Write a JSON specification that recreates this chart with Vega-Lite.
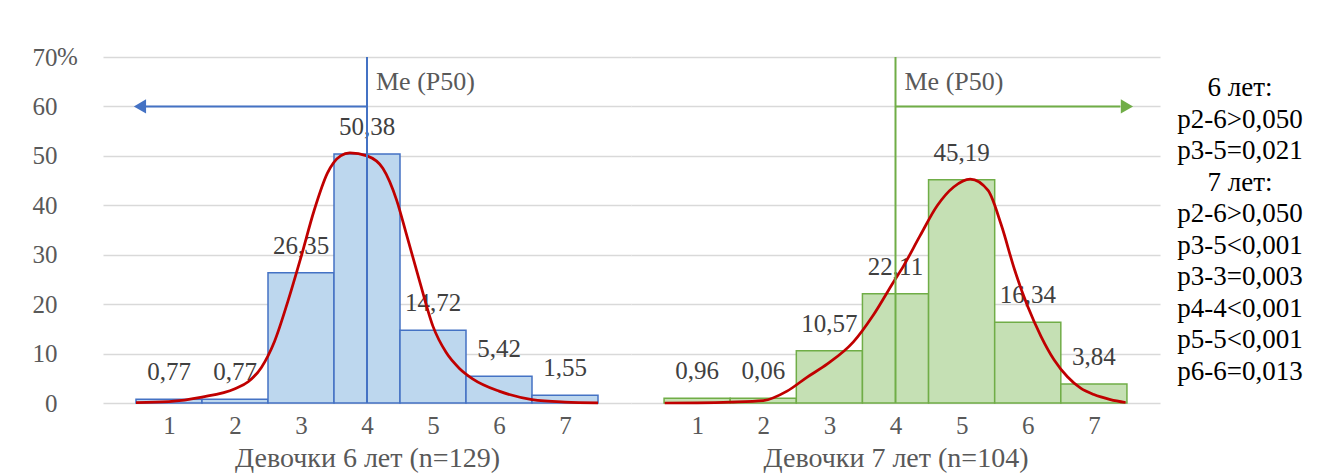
{
  "$schema": "https://vega.github.io/schema/vega-lite/v6.json",
  "padding": {"left": 32, "top": 45, "right": 5, "bottom": 5},
  "background": "white",
  "spacing": 0,
  "config": {
    "font": "Liberation Serif",
    "view": {"stroke": null},
    "axis": {
      "labelFont": "Liberation Serif", "titleFont": "Liberation Serif",
      "labelFontSize": 25, "titleFontSize": 28,
      "labelColor": "#595959", "titleColor": "#595959",
      "titleFontWeight": "normal", "gridColor": "#d9d9d9", "gridWidth": 1.5,
      "ticks": false, "domain": false
    },
    "text": {"font": "Liberation Serif", "fontSize": 25}
  },
  "datasets": {
    "bars": [
      {"g": "6", "cat": 1, "value": 0.77, "label": "0,77"},
      {"g": "6", "cat": 2, "value": 0.77, "label": "0,77"},
      {"g": "6", "cat": 3, "value": 26.35, "label": "26,35"},
      {"g": "6", "cat": 4, "value": 50.38, "label": "50,38"},
      {"g": "6", "cat": 5, "value": 14.72, "label": "14,72"},
      {"g": "6", "cat": 6, "value": 5.42, "label": "5,42"},
      {"g": "6", "cat": 7, "value": 1.55, "label": "1,55"},
      {"g": "7", "cat": 1, "value": 0.96, "label": "0,96"},
      {"g": "7", "cat": 2, "value": 0.96, "label": "0,06"},
      {"g": "7", "cat": 3, "value": 10.57, "label": "10,57"},
      {"g": "7", "cat": 4, "value": 22.11, "label": "22,11"},
      {"g": "7", "cat": 5, "value": 45.19, "label": "45,19"},
      {"g": "7", "cat": 6, "value": 16.34, "label": "16,34"},
      {"g": "7", "cat": 7, "value": 3.84, "label": "3,84"}
    ],
    "curve": [
      {"g": "6", "x": 0.5, "y": 0.1},
      {"g": "6", "x": 1.0, "y": 0.3},
      {"g": "6", "x": 1.5, "y": 1.2},
      {"g": "6", "x": 2.0, "y": 2.9},
      {"g": "6", "x": 2.2, "y": 4.3},
      {"g": "6", "x": 2.4, "y": 7.2},
      {"g": "6", "x": 2.6, "y": 12.5},
      {"g": "6", "x": 2.8, "y": 20.5},
      {"g": "6", "x": 3.0, "y": 29.5},
      {"g": "6", "x": 3.2, "y": 39},
      {"g": "6", "x": 3.4, "y": 46.5},
      {"g": "6", "x": 3.6, "y": 50.0},
      {"g": "6", "x": 3.74, "y": 50.6},
      {"g": "6", "x": 4.0, "y": 50.0},
      {"g": "6", "x": 4.24, "y": 47.5},
      {"g": "6", "x": 4.45, "y": 41},
      {"g": "6", "x": 4.6, "y": 34},
      {"g": "6", "x": 4.8, "y": 24.5},
      {"g": "6", "x": 5.0, "y": 15.5},
      {"g": "6", "x": 5.2, "y": 10.2},
      {"g": "6", "x": 5.4, "y": 7.0},
      {"g": "6", "x": 5.6, "y": 4.9},
      {"g": "6", "x": 6.0, "y": 2.4},
      {"g": "6", "x": 6.5, "y": 0.7},
      {"g": "6", "x": 7.0, "y": 0.2},
      {"g": "6", "x": 7.5, "y": 0.05},
      {"g": "7", "x": 0.51, "y": 0},
      {"g": "7", "x": 1.0, "y": 0.05},
      {"g": "7", "x": 1.5, "y": 0.2},
      {"g": "7", "x": 2.0, "y": 0.5},
      {"g": "7", "x": 2.36, "y": 2.4},
      {"g": "7", "x": 2.66, "y": 5.2},
      {"g": "7", "x": 2.97, "y": 7.9},
      {"g": "7", "x": 3.36, "y": 12.3},
      {"g": "7", "x": 3.66, "y": 17.7},
      {"g": "7", "x": 3.97, "y": 24.5},
      {"g": "7", "x": 4.12, "y": 27.7},
      {"g": "7", "x": 4.37, "y": 33.8},
      {"g": "7", "x": 4.63, "y": 39.9},
      {"g": "7", "x": 4.88, "y": 43.7},
      {"g": "7", "x": 5.13, "y": 45.3},
      {"g": "7", "x": 5.4, "y": 43},
      {"g": "7", "x": 5.6, "y": 36},
      {"g": "7", "x": 5.8, "y": 27},
      {"g": "7", "x": 6.0, "y": 19.5},
      {"g": "7", "x": 6.2, "y": 13.5},
      {"g": "7", "x": 6.4, "y": 8.7},
      {"g": "7", "x": 6.6, "y": 5.3},
      {"g": "7", "x": 6.8, "y": 3.0},
      {"g": "7", "x": 7.0, "y": 1.7},
      {"g": "7", "x": 7.25, "y": 0.7},
      {"g": "7", "x": 7.48, "y": 0.1}
    ],
    "notes": [
      {"i": 0, "t": "6 лет:"},
      {"i": 1, "t": "p2-6>0,050"},
      {"i": 2, "t": "p3-5=0,021"},
      {"i": 3, "t": "7 лет:"},
      {"i": 4, "t": "p2-6>0,050"},
      {"i": 5, "t": "p3-5<0,001"},
      {"i": 6, "t": "p3-3=0,003"},
      {"i": 7, "t": "p4-4<0,001"},
      {"i": 8, "t": "p5-5<0,001"},
      {"i": 9, "t": "p6-6=0,013"}
    ]
  },
  "hconcat": [
    {
      "width": 528, "height": 346,
      "layer": [
        {
          "data": {"name": "bars"},
          "transform": [
            {"filter": "datum.g == '6'"},
            {"bin": {"step": 1, "anchor": 0.5, "extent": [0.5, 7.5], "nice": false}, "field": "cat", "as": ["c0", "c1"]}
          ],
          "mark": {"type": "bar", "fill": "#bdd7ee", "stroke": "#4472c4", "strokeWidth": 1.5},
          "encoding": {
            "x": {"field": "c0", "type": "quantitative", "scale": {"domain": [0, 8]},
                  "axis": {"values": [1, 2, 3, 4, 5, 6, 7], "format": "d", "title": "Девочки 6 лет (n=129)", "grid": false, "labelPadding": 10, "titlePadding": 6}},
            "x2": {"field": "c1"},
            "y": {"field": "value", "type": "quantitative", "scale": {"domain": [0, 70], "padding": 0},
                  "axis": {"values": [0, 10, 20, 30, 40, 50, 60, 70], "title": null, "labelPadding": 46, "grid": true}},
            "y2": {"datum": 0}
          }
        },
        {
          "data": {"name": "bars"},
          "transform": [{"filter": "datum.g == '6'"}],
          "mark": {"type": "text", "font": "Liberation Serif", "fontSize": 25, "baseline": "middle", "dy": -27, "color": "#404040"},
          "encoding": {
            "x": {"field": "cat", "type": "quantitative"},
            "y": {"field": "value", "type": "quantitative"},
            "text": {"field": "label"}
          }
        },
        {
          "data": {"name": "curve"},
          "transform": [{"filter": "datum.g == '6'"}],
          "mark": {"type": "line", "interpolate": "monotone", "color": "#c00000", "strokeWidth": 2.75},
          "encoding": {
            "x": {"field": "x", "type": "quantitative"},
            "y": {"field": "y", "type": "quantitative"}
          }
        },
        {
          "data": {"values": [{}]},
          "mark": {"type": "rule", "color": "#4472c4", "strokeWidth": 2},
          "encoding": {"x": {"datum": 4}, "y": {"datum": 0}, "y2": {"datum": 70}}
        },
        {
          "data": {"values": [{}]},
          "mark": {"type": "rule", "color": "#4472c4", "strokeWidth": 2},
          "encoding": {"x": {"datum": 4}, "x2": {"datum": 0.65}, "y": {"datum": 60}}
        },
        {
          "data": {"values": [{}]},
          "mark": {"type": "point", "shape": "triangle-left", "filled": true, "opacity": 1, "size": 200, "color": "#4472c4"},
          "encoding": {"x": {"datum": 0.56}, "y": {"datum": 60}}
        },
        {
          "data": {"values": [{}]},
          "mark": {"type": "text", "font": "Liberation Serif", "fontSize": 26, "align": "left", "baseline": "middle", "dx": 9, "color": "#595959", "text": "Me (P50)"},
          "encoding": {"x": {"datum": 4}, "y": {"datum": 65}}
        },
        {
          "data": {"values": [{}]},
          "mark": {"type": "text", "font": "Liberation Serif", "fontSize": 25, "align": "left", "baseline": "middle", "dx": -46, "color": "#595959", "text": "%"},
          "encoding": {"x": {"datum": 0}, "y": {"datum": 70}}
        }
      ]
    },
    {
      "width": 529, "height": 346,
      "layer": [
        {
          "data": {"name": "bars"},
          "transform": [
            {"filter": "datum.g == '7'"},
            {"bin": {"step": 1, "anchor": 0.5, "extent": [0.5, 7.5], "nice": false}, "field": "cat", "as": ["c0", "c1"]}
          ],
          "mark": {"type": "bar", "fill": "#c5e0b4", "stroke": "#70ad47", "strokeWidth": 1.5},
          "encoding": {
            "x": {"field": "c0", "type": "quantitative", "scale": {"domain": [0, 8]},
                  "axis": {"values": [1, 2, 3, 4, 5, 6, 7], "format": "d", "title": "Девочки 7 лет (n=104)", "grid": false, "labelPadding": 10, "titlePadding": 6}},
            "x2": {"field": "c1"},
            "y": {"field": "value", "type": "quantitative", "scale": {"domain": [0, 70], "padding": 0},
                  "axis": {"values": [0, 10, 20, 30, 40, 50, 60, 70], "title": null, "labels": false, "grid": true}},
            "y2": {"datum": 0}
          }
        },
        {
          "data": {"name": "bars"},
          "transform": [{"filter": "datum.g == '7'"}],
          "mark": {"type": "text", "font": "Liberation Serif", "fontSize": 25, "baseline": "middle", "dy": -27, "color": "#404040"},
          "encoding": {
            "x": {"field": "cat", "type": "quantitative"},
            "y": {"field": "value", "type": "quantitative"},
            "text": {"field": "label"}
          }
        },
        {
          "data": {"name": "curve"},
          "transform": [{"filter": "datum.g == '7'"}],
          "mark": {"type": "line", "interpolate": "monotone", "color": "#c00000", "strokeWidth": 2.75},
          "encoding": {
            "x": {"field": "x", "type": "quantitative"},
            "y": {"field": "y", "type": "quantitative"}
          }
        },
        {
          "data": {"values": [{}]},
          "mark": {"type": "rule", "color": "#70ad47", "strokeWidth": 2},
          "encoding": {"x": {"datum": 4}, "y": {"datum": 0}, "y2": {"datum": 70}}
        },
        {
          "data": {"values": [{}]},
          "mark": {"type": "rule", "color": "#70ad47", "strokeWidth": 2},
          "encoding": {"x": {"datum": 4}, "x2": {"datum": 7.4}, "y": {"datum": 60}}
        },
        {
          "data": {"values": [{}]},
          "mark": {"type": "point", "shape": "triangle-right", "filled": true, "opacity": 1, "size": 200, "color": "#70ad47"},
          "encoding": {"x": {"datum": 7.5}, "y": {"datum": 60}}
        },
        {
          "data": {"values": [{}]},
          "mark": {"type": "text", "font": "Liberation Serif", "fontSize": 26, "align": "left", "baseline": "middle", "dx": 9, "color": "#595959", "text": "Me (P50)"},
          "encoding": {"x": {"datum": 4}, "y": {"datum": 65}}
        }
      ]
    },
    {
      "width": 160, "height": 346,
      "data": {"name": "notes"},
      "mark": {"type": "text", "font": "Liberation Serif", "fontSize": 27, "color": "#000000", "baseline": "middle"},
      "encoding": {
        "y": {"field": "i", "type": "ordinal", "scale": {"type": "point", "padding": 1.2}, "axis": null},
        "text": {"field": "t"}
      }
    }
  ]
}
